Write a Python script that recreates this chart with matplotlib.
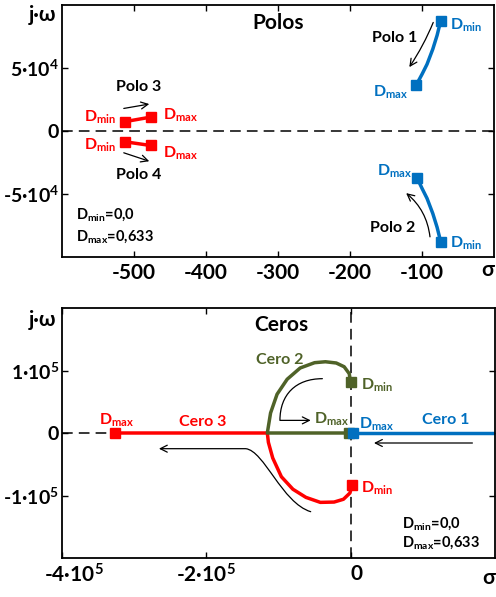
import matplotlib
matplotlib.use("Agg")
import matplotlib.pyplot as plt
from matplotlib.path import Path
from matplotlib.patches import FancyArrowPatch
import matplotlib.transforms as mtransforms

plt.rcParams['font.family'] = ['Lato', 'DejaVu Sans']
plt.rcParams['font.weight'] = 'bold'
plt.rcParams['mathtext.fontset'] = 'custom'
plt.rcParams['mathtext.rm'] = 'Lato:bold'
plt.rcParams['mathtext.bf'] = 'Lato:bold'
plt.rcParams['mathtext.it'] = 'Lato:bold'
plt.rcParams['mathtext.default'] = 'bf'

BLUE = '#0070C0'
RED = '#FF0000'
GREEN = '#4F6228'

# ---------------- data: poles (sigma, j*omega), D_min -> D_max ----------------
polo1_sigma = [-74, -79, -85, -93, -100, -108]
polo1_omega = [87500, 76000, 65000, 53000, 45000, 36500]
polo2_sigma = [-74, -79, -85, -93, -100, -107]
polo2_omega = [-88000, -76500, -65500, -53500, -45500, -37000]
polo3_sigma = [-513, -477]
polo3_omega = [7400, 11000]
polo4_sigma = [-513, -477]
polo4_omega = [-8500, -11500]

# ---------------- data: zeros ----------------
cero1_sigma = [200000, 3000]
cero1_omega = [0, 0]
cero2_sigma = [0, -2000, -9000, -20000, -35000, -50000, -70000, -88000, -102000, -111000, -115500, -2500]
cero2_omega = [81000, 95000, 106000, 112000, 114000, 112500, 104000, 86000, 62000, 32000, 0, 0]
cero3_sigma = [2000, -1000, -10000, -23000, -42000, -62000, -80000, -96000, -108000, -114000, -115500, -327000]
cero3_omega = [-82700, -96000, -106000, -110500, -111000, -103000, -90000, -70000, -40000, -15000, 0, 0]

top_xticks = [-500, -400, -300, -200, -100]
top_yticks = [-50000, 0, 50000]
top_yticklabels = ['-5·10$^{4}$', '0', '5·10$^{4}$']
bot_xticks = [-400000, -200000, 0]
bot_xticklabels = ['-4·10$^{5}$', '-2·10$^{5}$', '0']
bot_yticks = [-100000, 0, 100000]
bot_yticklabels = ['-1·10$^{5}$', '0', '1·10$^{5}$']

W, H = 496, 597
fig = plt.figure(figsize=(W / 100, H / 100), dpi=100)


def axes_px(l, t, r, b):
    return fig.add_axes([l / W, (H - b) / H, (r - l) / W, (b - t) / H])


ax1 = axes_px(62, 5, 494, 257)
ax2 = axes_px(62, 308, 495, 558)

for ax in (ax1, ax2):
    for s in ax.spines.values():
        s.set_linewidth(1.3)
    ax.tick_params(direction='in', length=4, width=1, top=True, right=True)
    ax.tick_params(axis='x', labelsize=15, pad=4)
    ax.tick_params(axis='y', labelsize=14, pad=2)

MS = 6.5
LW = 2.5
TXT = 11.5

# ---------------- top chart: poles ----------------
ax1.set_xlim(-600, 0)
ax1.set_ylim(-100000, 100000)
ax1.axhline(0, color='k', lw=1.1, ls=(0, (7, 4)))
ax1.plot(polo1_sigma, polo1_omega, color=BLUE, lw=LW)
ax1.plot(polo2_sigma, polo2_omega, color=BLUE, lw=LW)
ax1.plot([polo1_sigma[0], polo1_sigma[-1]], [polo1_omega[0], polo1_omega[-1]], 's', color=BLUE, ms=MS)
ax1.plot([polo2_sigma[0], polo2_sigma[-1]], [polo2_omega[0], polo2_omega[-1]], 's', color=BLUE, ms=MS)
ax1.plot(polo3_sigma, polo3_omega, color=RED, lw=LW, marker='s', ms=MS)
ax1.plot(polo4_sigma, polo4_omega, color=RED, lw=LW, marker='s', ms=MS)

ax1.set_xticks(top_xticks)
ax1.set_xticklabels([str(v) for v in top_xticks])
ax1.set_yticks(top_yticks)
ax1.set_yticklabels(top_yticklabels)

ax1.text(-335, 85400, 'Polos', fontsize=15, ha='left', va='center')
ax1.text(-169.6, 74200, 'Polo 1', fontsize=TXT, ha='left', va='center')
ax1.text(-172.9, -76800, 'Polo 2', fontsize=TXT, ha='left', va='center')
ax1.text(-493, 34700, 'Polo 3', fontsize=TXT, ha='center', va='center')
ax1.text(-493, -34600, 'Polo 4', fontsize=TXT, ha='center', va='center')
ax1.text(-61.3, 83800, 'D$_{min}$', color=BLUE, fontsize=TXT, ha='left', va='center')
ax1.text(-167.4, 31000, 'D$_{max}$', color=BLUE, fontsize=TXT, ha='left', va='center')
ax1.text(-162.7, -32200, 'D$_{max}$', color=BLUE, fontsize=TXT, ha='left', va='center')
ax1.text(-61.3, -89000, 'D$_{min}$', color=BLUE, fontsize=TXT, ha='left', va='center')
ax1.text(-524.9, 10700, 'D$_{min}$', color=RED, fontsize=TXT, ha='right', va='center')
ax1.text(-460, 12600, 'D$_{max}$', color=RED, fontsize=TXT, ha='left', va='center')
ax1.text(-524.9, -11400, 'D$_{min}$', color=RED, fontsize=TXT, ha='right', va='center')
ax1.text(-460, -17800, 'D$_{max}$', color=RED, fontsize=TXT, ha='left', va='center')
ax1.text(-580, -66600, 'D$_{min}$=0,0', fontsize=10.5, ha='left', va='center')
ax1.text(-580, -84200, 'D$_{max}$=0,633', fontsize=10.5, ha='left', va='center')

AP = dict(arrowstyle='->,head_length=0.5,head_width=0.25', color='k', lw=0.9,
          shrinkA=0, shrinkB=0)
ax1.annotate('', xy=(-117.6, 50700), xytext=(-84.4, 86160),
             arrowprops=dict(AP, connectionstyle='arc3,rad=-0.05'))
ax1.annotate('', xy=(-122, -49300), xytext=(-88.9, -84000),
             arrowprops=dict(AP, connectionstyle='arc3,rad=0.2'))
ax1.annotate('', xy=(-478.8, 21400), xytext=(-514.2, 17900), arrowprops=AP)
ax1.annotate('', xy=(-478.8, -24000), xytext=(-514.2, -17300), arrowprops=AP)

ax1.text(-0.046, 0.96, 'j·ω', transform=ax1.transAxes, fontsize=15, ha='center', va='center')
ax1.text(0.986, -0.052, 'σ', transform=ax1.transAxes, fontsize=15, ha='center', va='center')

# ---------------- bottom chart: zeros ----------------
ax2.set_xlim(-400000, 200000)
ax2.set_ylim(-200000, 200000)
ax2.axhline(0, color='k', lw=1.1, ls=(0, (7, 4)))
ax2.axvline(0, color='k', lw=1.1, ls=(0, (7, 4)))
ax2.plot(cero3_sigma, cero3_omega, color=RED, lw=LW)
ax2.plot(cero2_sigma, cero2_omega, color=GREEN, lw=LW)
ax2.plot(cero1_sigma, cero1_omega, color=BLUE, lw=LW)
ax2.plot([cero3_sigma[0], cero3_sigma[-1]], [cero3_omega[0], cero3_omega[-1]], 's', color=RED, ms=MS)
ax2.plot([cero2_sigma[0], cero2_sigma[-1]], [cero2_omega[0], cero2_omega[-1]], 's', color=GREEN, ms=MS)
ax2.plot([cero1_sigma[-1]], [cero1_omega[-1]], 's', color=BLUE, ms=MS)

ax2.set_xticks(bot_xticks)
ax2.set_xticklabels(bot_xticklabels)
ax2.set_yticks(bot_yticks)
ax2.set_yticklabels(bot_yticklabels)
xl = ax2.get_xticklabels()
xl[0].set_transform(xl[0].get_transform() + mtransforms.ScaledTranslation(12 / 100, 0, fig.dpi_scale_trans))
xl[2].set_transform(xl[2].get_transform() + mtransforms.ScaledTranslation(6 / 100, 0, fig.dpi_scale_trans))

ax2.text(-133000, 173300, 'Ceros', fontsize=15, ha='left', va='center')
ax2.text(-131700, 116200, 'Cero 2', color=GREEN, fontsize=TXT, ha='left', va='center')
ax2.text(99400, 20200, 'Cero 1', color=BLUE, fontsize=TXT, ha='left', va='center')
ax2.text(-205100, 18100, 'Cero 3', color=RED, fontsize=TXT, ha='center', va='center')
ax2.text(13900, 75700, 'D$_{min}$', color=GREEN, fontsize=TXT, ha='left', va='center')
ax2.text(-51300, 21300, 'D$_{max}$', color=GREEN, fontsize=TXT, ha='left', va='center')
ax2.text(11100, 13300, 'D$_{max}$', color=BLUE, fontsize=TXT, ha='left', va='center')
ax2.text(13900, -88000, 'D$_{min}$', color=RED, fontsize=TXT, ha='left', va='center')
ax2.text(-324300, 20200, 'D$_{max}$', color=RED, fontsize=TXT, ha='center', va='center')
ax2.text(71700, -145100, 'D$_{min}$=0,0', fontsize=10.5, ha='left', va='center')
ax2.text(71700, -176000, 'D$_{max}$=0,633', fontsize=10.5, ha='left', va='center')

ax2.annotate('', xy=(32300, -16000), xytext=(168700, -16000), arrowprops=AP)

AS = '->,head_length=5,head_width=2.5'
green_path = Path([(-39200, 86900), (-76200, 86900), (-98000, 61300), (-98000, 20200), (-55400, 20200)],
                  [Path.MOVETO, Path.CURVE4, Path.CURVE4, Path.CURVE4, Path.LINETO])
ax2.add_patch(FancyArrowPatch(path=green_path, arrowstyle=AS, color='k', lw=0.9))
red_path = Path([(-55400, -125900), (-95000, -112000), (-120000, -28000), (-145500, -25100), (-265700, -25100)],
                [Path.MOVETO, Path.CURVE4, Path.CURVE4, Path.CURVE4, Path.LINETO])
ax2.add_patch(FancyArrowPatch(path=red_path, arrowstyle=AS, color='k', lw=0.9))

ax2.text(-0.046, 0.952, 'j·ω', transform=ax2.transAxes, fontsize=15, ha='center', va='center')
ax2.text(0.986, -0.08, 'σ', transform=ax2.transAxes, fontsize=15, ha='center', va='center')

fig.savefig('out.png', dpi=100)
